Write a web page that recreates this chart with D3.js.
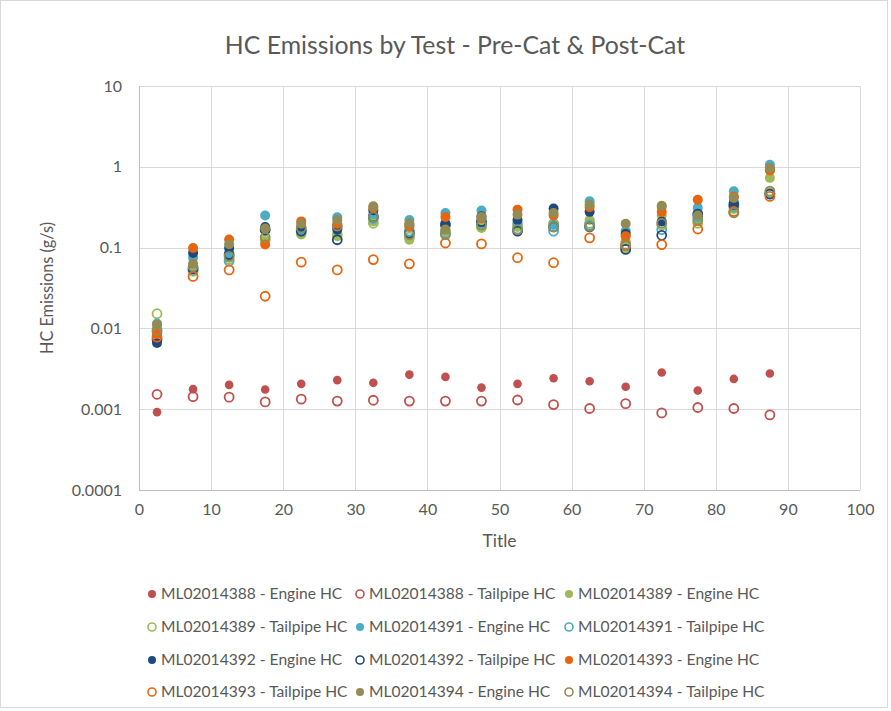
<!DOCTYPE html>
<html>
<head>
<meta charset="utf-8">
<script src="https://cdn.jsdelivr.net/npm/d3@7"></script>
<style>
  body { margin: 0; background: #fff; }
  text { font-family: Lato, "Liberation Sans", sans-serif; fill: #595959; }
  .axis path, .axis line { display: none; }
</style>
</head>
<body>
<div id="chart"></div>
<script>
// test positions on the x axis
var tests = [2.5, 7.5, 12.5, 17.5, 22.5, 27.5, 32.5, 37.5, 42.5, 47.5, 52.5, 57.5, 62.5, 67.5, 72.5, 77.5, 82.5, 87.5];

var yTicks = [0.0001, 0.001, 0.01, 0.1, 1, 10];
var yTickLabels = ["0.0001", "0.001", "0.01", "0.1", "1", "10"];
var xTicks = [0, 10, 20, 30, 40, 50, 60, 70, 80, 90, 100];

var engine388 = [0.00092, 0.00177, 0.0020, 0.00175, 0.00206, 0.00229, 0.00212, 0.00268, 0.00251, 0.00185, 0.00206, 0.00242, 0.00222, 0.0019, 0.00284, 0.0017, 0.00237, 0.00276];
var tail388 = [0.00153, 0.00143, 0.00141, 0.00123, 0.00133, 0.00126, 0.00129, 0.00126, 0.00126, 0.00126, 0.0013, 0.00114, 0.00102, 0.00117, 0.0009, 0.00105, 0.00102, 0.00085];
var engine389 = [0.010, 0.056, 0.075, 0.12, 0.145, 0.138, 0.21, 0.125, 0.155, 0.175, 0.18, 0.2, 0.22, 0.12, 0.25, 0.21, 0.3, 0.73];
var tail389 = [0.0152, 0.051, 0.072, 0.125, 0.15, 0.145, 0.2, 0.135, 0.16, 0.18, 0.19, 0.2, 0.2, 0.1, 0.19, 0.2, 0.27, 0.48];
var engine391 = [0.0115, 0.075, 0.086, 0.25, 0.167, 0.237, 0.26, 0.22, 0.268, 0.287, 0.2, 0.19, 0.374, 0.16, 0.32, 0.31, 0.498, 1.06];
var tail391 = [0.009, 0.053, 0.068, 0.17, 0.165, 0.18, 0.23, 0.16, 0.15, 0.2, 0.17, 0.16, 0.19, 0.105, 0.167, 0.24, 0.32, 0.46];
var engine392 = [0.0066, 0.086, 0.099, 0.18, 0.18, 0.167, 0.29, 0.19, 0.2, 0.244, 0.22, 0.304, 0.277, 0.148, 0.21, 0.26, 0.36, 0.92];
var tail392 = [0.0073, 0.055, 0.082, 0.165, 0.16, 0.125, 0.24, 0.15, 0.19, 0.21, 0.16, 0.18, 0.18, 0.095, 0.142, 0.26, 0.34, 0.46];
var engine393 = [0.0085, 0.099, 0.126, 0.109, 0.211, 0.197, 0.31, 0.18, 0.24, 0.23, 0.295, 0.25, 0.317, 0.138, 0.277, 0.39, 0.43, 0.9];
var tail393 = [0.0078, 0.044, 0.053, 0.025, 0.066, 0.053, 0.071, 0.063, 0.114, 0.111, 0.075, 0.065, 0.132, 0.106, 0.109, 0.17, 0.28, 0.43];
var engine394 = [0.0111, 0.063, 0.11, 0.172, 0.197, 0.22, 0.324, 0.2, 0.167, 0.24, 0.256, 0.268, 0.34, 0.197, 0.33, 0.25, 0.41, 0.97];
var tail394 = [0.0095, 0.058, 0.078, 0.134, 0.175, 0.185, 0.24, 0.145, 0.145, 0.19, 0.167, 0.18, 0.183, 0.11, 0.2, 0.22, 0.27, 0.5];

var series = [
  { name: "ML02014388 - Engine HC", values: engine388, color: "#C0504D", filled: true, r: 4.3 },
  { name: "ML02014388 - Tailpipe HC", values: tail388, color: "#C0504D", filled: false, r: 4.5 },
  { name: "ML02014389 - Engine HC", values: engine389, color: "#9BBB59", filled: true, r: 5 },
  { name: "ML02014389 - Tailpipe HC", values: tail389, color: "#9BBB59", filled: false, r: 4.5 },
  { name: "ML02014391 - Engine HC", values: engine391, color: "#4BACC6", filled: true, r: 5 },
  { name: "ML02014391 - Tailpipe HC", values: tail391, color: "#4BACC6", filled: false, r: 4.5 },
  { name: "ML02014392 - Engine HC", values: engine392, color: "#1F497D", filled: true, r: 5 },
  { name: "ML02014392 - Tailpipe HC", values: tail392, color: "#1F497D", filled: false, r: 4.5 },
  { name: "ML02014393 - Engine HC", values: engine393, color: "#E8650F", filled: true, r: 5 },
  { name: "ML02014393 - Tailpipe HC", values: tail393, color: "#E8650F", filled: false, r: 4.5 },
  { name: "ML02014394 - Engine HC", values: engine394, color: "#948A54", filled: true, r: 5 },
  { name: "ML02014394 - Tailpipe HC", values: tail394, color: "#948A54", filled: false, r: 4.5 }
];

var W = 891, H = 711;
var margin = { top: 86, right: 31, bottom: 221, left: 139 },
  width = W - margin.left - margin.right,
  height = H - margin.top - margin.bottom;

var svg = d3.select("#chart").append("svg")
  .attr("width", W)
  .attr("height", H);

// outer chart border
svg.append("rect")
  .attr("x", 0.5).attr("y", 0.5)
  .attr("width", W - 4).attr("height", H - 4)
  .attr("fill", "#fff")
  .attr("stroke", "#D9D9D9");

svg.append("text")
  .attr("x", 455)
  .attr("y", 54)
  .attr("text-anchor", "middle")
  .style("font-size", "24.8px")
  .text("HC Emissions by Test - Pre-Cat & Post-Cat");

var x = d3.scaleLinear().domain([0, 100]).range([0, width]);
var y = d3.scaleLog().domain([0.0001, 10]).range([height, 0]);

var g = svg.append("g")
  .attr("transform", "translate(" + margin.left + "," + margin.top + ")");

// gridlines
g.selectAll(".hgrid")
  .data(yTicks)
  .enter().append("line")
  .attr("class", "hgrid")
  .attr("x1", 0).attr("x2", width)
  .attr("y1", function (d) { return Math.round(y(d)) + 0.5; })
  .attr("y2", function (d) { return Math.round(y(d)) + 0.5; })
  .attr("stroke", "#D9D9D9");

g.selectAll(".vgrid")
  .data(xTicks)
  .enter().append("line")
  .attr("class", "vgrid")
  .attr("y1", 0).attr("y2", height)
  .attr("x1", function (d) { return Math.round(x(d)) + 0.5; })
  .attr("x2", function (d) { return Math.round(x(d)) + 0.5; })
  .attr("stroke", function (d) { return d === 0 ? "#BFBFBF" : "#D9D9D9"; });

g.append("line")
  .attr("x1", 0).attr("x2", width)
  .attr("y1", Math.round(height) + 0.5).attr("y2", Math.round(height) + 0.5)
  .attr("stroke", "#BFBFBF");

g.append("g")
  .attr("class", "axis axis--x")
  .attr("transform", "translate(0," + height + ")")
  .call(d3.axisBottom(x).tickValues(xTicks).tickSize(0).tickPadding(14).tickFormat(d3.format("d")))
  .selectAll("text")
  .style("font-size", "16px")
  .attr("fill", "#595959");

g.append("g")
  .attr("class", "axis axis--y")
  .call(d3.axisLeft(y).tickValues(yTicks).tickSize(0).tickPadding(17)
    .tickFormat(function (d, i) { return yTickLabels[i]; }))
  .selectAll("text")
  .style("font-size", "16px")
  .attr("fill", "#595959");

svg.selectAll(".axis").attr("font-family", null);

svg.append("text")
  .attr("x", margin.left + width / 2)
  .attr("y", 547)
  .attr("text-anchor", "middle")
  .style("font-size", "17.5px")
  .text("Title");

svg.append("text")
  .attr("transform", "translate(53," + (margin.top + height / 2) + ") rotate(-90)")
  .attr("text-anchor", "middle")
  .style("font-size", "16.3px")
  .text("HC Emissions (g/s)");

// markers
var sg = g.selectAll(".series")
  .data(series)
  .enter().append("g")
  .attr("class", "series");

sg.selectAll("circle")
  .data(function (s) {
    return s.values.map(function (v, i) { return { x: tests[i], v: v, s: s }; });
  })
  .enter().append("circle")
  .attr("cx", function (d) { return x(d.x); })
  .attr("cy", function (d) { return y(d.v); })
  .attr("r", function (d) { return d.s.r; })
  .attr("fill", function (d) { return d.s.filled ? d.s.color : "none"; })
  .attr("stroke", function (d) { return d.s.filled ? "none" : d.s.color; })
  .attr("stroke-width", 1.8);

// legend, 3 per row
var legendCols = [152, 360, 569], legendRows = [594, 627, 660, 692];

var lg = svg.selectAll(".legend")
  .data(series)
  .enter().append("g")
  .attr("class", "legend")
  .attr("transform", function (d, i) {
    return "translate(" + legendCols[i % 3] + "," + legendRows[Math.floor(i / 3)] + ")";
  });

lg.append("circle")
  .attr("r", 4)
  .attr("fill", function (d) { return d.filled ? d.color : "none"; })
  .attr("stroke", function (d) { return d.filled ? "none" : d.color; })
  .attr("stroke-width", 1.6);

lg.append("text")
  .attr("x", 9)
  .attr("dy", "0.35em")
  .style("font-size", "15.6px")
  .text(function (d) { return d.name; });
</script>
</body>
</html>
